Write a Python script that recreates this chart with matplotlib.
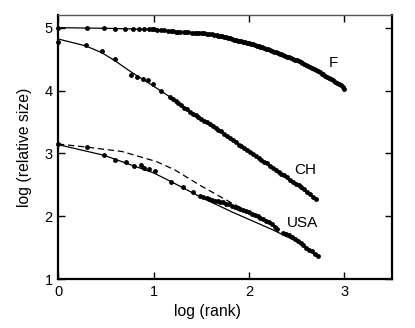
import matplotlib
matplotlib.use('Agg')
import matplotlib.pyplot as plt

plt.rcParams['font.family'] = ['Liberation Sans', 'DejaVu Sans']

# data: x = log(rank), y = log(relative size)
f_x = [0, 0.30, 0.48, 0.60, 0.70, 0.78, 0.85, 0.90, 0.95, 0.98, 1.00, 1.04, 1.08, 1.11,
       1.15, 1.18, 1.20, 1.23, 1.26, 1.28, 1.32, 1.34, 1.36, 1.40, 1.43, 1.45, 1.48, 1.51,
       1.53, 1.56, 1.58, 1.61, 1.63, 1.66, 1.68, 1.70, 1.72, 1.74, 1.76, 1.78, 1.80, 1.82,
       1.84, 1.86, 1.88, 1.90, 1.92, 1.94, 1.96, 1.98, 2.00, 2.02, 2.04, 2.06, 2.08, 2.10,
       2.12, 2.14, 2.16, 2.18, 2.20, 2.22, 2.24, 2.26, 2.28, 2.30, 2.32, 2.34, 2.36, 2.38,
       2.40, 2.42, 2.44, 2.46, 2.48, 2.50, 2.52, 2.54, 2.56, 2.58, 2.60, 2.62, 2.64, 2.66,
       2.68, 2.70, 2.72, 2.74, 2.76, 2.78, 2.80, 2.82, 2.84, 2.86, 2.88, 2.90, 2.92, 2.94,
       2.96, 2.98, 3.00]
f_y = [5.00, 4.99, 4.99, 4.985, 4.975, 4.98, 4.98, 4.98, 4.98, 4.98, 4.975, 4.97, 4.96, 4.955,
       4.95, 4.945, 4.94, 4.935, 4.935, 4.93, 4.93, 4.925, 4.925, 4.92, 4.92, 4.92, 4.915, 4.91,
       4.91, 4.905, 4.90, 4.895, 4.89, 4.88, 4.875, 4.865, 4.86, 4.85, 4.845, 4.835, 4.83, 4.82,
       4.81, 4.80, 4.795, 4.79, 4.78, 4.77, 4.765, 4.755, 4.75, 4.74, 4.735, 4.725, 4.715, 4.71,
       4.70, 4.69, 4.68, 4.665, 4.655, 4.645, 4.635, 4.62, 4.61, 4.60, 4.585, 4.575, 4.56, 4.55,
       4.54, 4.53, 4.515, 4.505, 4.49, 4.48, 4.465, 4.45, 4.435, 4.42, 4.405, 4.39, 4.37, 4.355,
       4.34, 4.32, 4.305, 4.29, 4.27, 4.255, 4.235, 4.22, 4.20, 4.18, 4.16, 4.14, 4.12, 4.10,
       4.08, 4.06, 4.03]
f_fit_x = [0, 0.5, 1.0, 1.5, 2.0, 2.5, 2.75, 3.0]
f_fit_y = [5.00, 4.99, 4.97, 4.91, 4.75, 4.48, 4.29, 4.03]

ch_x = [0, 0.29, 0.46, 0.60, 0.76, 0.83, 0.885, 0.94, 0.99, 1.08, 1.17, 1.20, 1.23, 1.26,
        1.29, 1.32, 1.35, 1.38, 1.41, 1.44, 1.47, 1.50, 1.53, 1.56, 1.59, 1.62, 1.65, 1.68,
        1.71, 1.74, 1.77, 1.80, 1.83, 1.86, 1.89, 1.92, 1.95, 1.98, 2.01, 2.04, 2.07, 2.10,
        2.13, 2.16, 2.19, 2.22, 2.25, 2.28, 2.31, 2.34, 2.37, 2.40, 2.43, 2.46, 2.49, 2.52,
        2.55, 2.58, 2.61, 2.64, 2.67, 2.70]
ch_y = [4.77, 4.73, 4.63, 4.50, 4.25, 4.21, 4.19, 4.17, 4.10, 3.99, 3.90, 3.87, 3.83, 3.80,
        3.77, 3.73, 3.70, 3.66, 3.63, 3.61, 3.58, 3.55, 3.52, 3.50, 3.47, 3.44, 3.41, 3.38,
        3.35, 3.31, 3.27, 3.24, 3.21, 3.18, 3.14, 3.11, 3.08, 3.05, 3.02, 2.99, 2.96, 2.93,
        2.90, 2.87, 2.84, 2.80, 2.77, 2.74, 2.71, 2.68, 2.65, 2.62, 2.58, 2.55, 2.52, 2.49,
        2.46, 2.43, 2.39, 2.35, 2.31, 2.27]
ch_fit_x = [0, 0.29, 0.46, 0.60, 0.76, 1.0, 1.2, 1.5, 2.0, 2.3, 2.7]
ch_fit_y = [4.82, 4.71, 4.60, 4.47, 4.30, 4.07, 3.87, 3.54, 3.03, 2.72, 2.27]

usa_x = [0, 0.30, 0.48, 0.60, 0.71, 0.80, 0.87, 0.90, 0.95, 1.01, 1.185, 1.31, 1.415, 1.485,
         1.52, 1.555, 1.58, 1.61, 1.64, 1.67, 1.70, 1.73, 1.76, 1.79, 1.82, 1.85, 1.88, 1.91,
         1.94, 1.97, 2.00, 2.03, 2.06, 2.09, 2.12, 2.15, 2.18, 2.21, 2.24, 2.27, 2.29, 2.36,
         2.39, 2.42, 2.45, 2.48, 2.51, 2.54, 2.57, 2.60, 2.63, 2.66, 2.69, 2.72]
usa_y = [3.15, 3.10, 2.97, 2.90, 2.87, 2.80, 2.81, 2.77, 2.75, 2.72, 2.54, 2.47, 2.38, 2.32,
         2.30, 2.29, 2.27, 2.26, 2.25, 2.24, 2.23, 2.22, 2.20, 2.19, 2.17, 2.15, 2.13, 2.12,
         2.10, 2.08, 2.06, 2.04, 2.02, 2.00, 1.97, 1.95, 1.93, 1.91, 1.87, 1.83, 1.80, 1.74,
         1.72, 1.70, 1.67, 1.64, 1.61, 1.57, 1.54, 1.50, 1.47, 1.44, 1.40, 1.37]
usa_fit_x = [0, 0.48, 1.0, 1.185, 1.5, 1.82, 2.24, 2.5, 2.70]
usa_fit_y = [3.14, 2.97, 2.69, 2.55, 2.30, 2.07, 1.79, 1.60, 1.39]
usa_dash_x = [0, 0.30, 0.67, 1.03, 1.22, 1.50, 1.82, 2.05, 2.30]
usa_dash_y = [3.15, 3.10, 3.03, 2.87, 2.74, 2.48, 2.21, 2.03, 1.83]

fig = plt.figure(figsize=(4.15, 3.28), dpi=100)
ax = fig.add_axes([0.140, 0.149, 0.805, 0.805])

for fx, fy in [(f_fit_x, f_fit_y), (ch_fit_x, ch_fit_y), (usa_fit_x, usa_fit_y)]:
    ax.plot(fx, fy, color='black', linewidth=0.9)
ax.plot(usa_dash_x, usa_dash_y, color='black', linewidth=0.9, linestyle=(0, (5, 3)))
for px, py in [(f_x, f_y), (ch_x, ch_y), (usa_x, usa_y)]:
    ax.plot(px, py, 'o', color='black', markersize=3.5, markeredgewidth=0, clip_on=False)

ax.text(2.88, 4.44, 'F', fontsize=11, ha='center', va='center')
ax.text(2.59, 2.74, 'CH', fontsize=11, ha='center', va='center')
ax.text(2.56, 1.90, 'USA', fontsize=11, ha='center', va='center')

ax.set_xlim(0, 3.5)
ax.set_ylim(1, 5.2)
ax.set_xticks([0, 1, 2, 3])
ax.set_yticks([1, 2, 3, 4, 5])
ax.tick_params(direction='in', top=True, right=True, length=5, width=1, labelsize=10.5, pad=4)
for s in ax.spines.values():
    s.set_linewidth(1.6)
ax.spines['top'].set_linewidth(1.0)
ax.spines['top'].set_color('#555555')
ax.set_xlabel('log (rank)', fontsize=11.3)
ax.set_ylabel('log (relative size)', fontsize=11.3)
ax.xaxis.set_label_coords(0.448, -0.095)
ax.yaxis.set_label_coords(-0.078, 0.5)

fig.savefig('out.png', dpi=100)
